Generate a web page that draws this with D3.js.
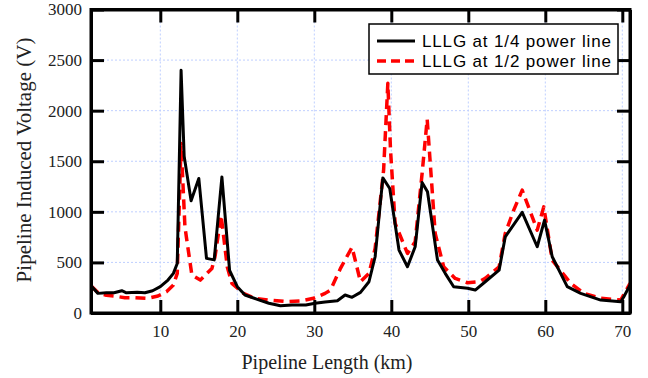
<!DOCTYPE html>
<html><head><meta charset="utf-8">
<script src="https://cdn.jsdelivr.net/npm/d3@7"></script>
<style>body{margin:0;background:#fff}svg{display:block}</style>
</head><body>
<svg id="chart" width="648" height="378"></svg>
<script>
// ---- data ----
const seriesNames = ["LLLG at 1/4 power line", "LLLG at 1/2 power line"];
const xTicks = [10, 20, 30, 40, 50, 60, 70];
const yTicks = [0, 500, 1000, 1500, 2000, 2500, 3000];
const quarterKm = [1, 1.9, 3, 4, 5, 5.6, 7, 8, 9, 10, 11, 11.7, 12.2, 12.7, 13.1, 14, 15, 16, 17, 18, 19, 20, 21, 22.6, 24.1, 25.6, 27.1, 28.9, 30.1, 31.4, 33, 34, 34.9, 36, 37.1, 37.9, 38.9, 39.8, 41, 42.1, 43.1, 44, 44.7, 46, 47, 48.1, 49.9, 50.9, 52.2, 54, 54.8, 57, 58.95, 59.9, 60.9, 62.85, 64.6, 67.2, 69.8, 70.2, 71];
const quarterV = [270, 194, 200, 200, 220, 200, 204, 200, 220, 260, 326, 392, 490, 2400, 1550, 1110, 1330, 540, 525, 1345, 420, 260, 178, 135, 96, 72, 79, 79, 96, 109, 121, 178, 155, 204, 309, 556, 1335, 1231, 622, 457, 655, 1290, 1198, 523, 392, 260, 244, 227, 309, 424, 753, 995, 655, 918, 556, 260, 194, 128, 112, 161, 276];
const halfKm = [1, 2, 3, 4, 5.4, 6.7, 8.4, 9.7, 10.8, 11.7, 12.2, 12.7, 13.2, 14.1, 15.2, 16.7, 17.1, 17.9, 18.7, 19.3, 20.8, 22.3, 24.1, 26.5, 28.2, 29.9, 31.4, 32.1, 33.4, 34.9, 36, 37.1, 37.9, 39, 39.55, 39.9, 40.5, 42.1, 43.1, 44, 44.66, 45.7, 46.8, 48.3, 49.9, 51.4, 52.2, 54, 54.8, 55.9, 57, 58.95, 59.8, 60.9, 63.3, 65, 67.2, 69.8, 71];
const halfV = [270, 195, 175, 168, 151, 151, 145, 168, 210, 276, 392, 1675, 850, 375, 325, 440, 555, 965, 455, 293, 194, 145, 128, 112, 118, 145, 194, 227, 441, 650, 309, 392, 639, 1411, 2270, 1609, 885, 589, 704, 1379, 1915, 787, 457, 342, 299, 309, 342, 457, 787, 1017, 1214, 819, 1049, 523, 293, 194, 145, 128, 293];

// ---- layout ----
const svg = d3.select("#chart");
const L = 91, R = 630, T = 9.5, B = 313;
const x = d3.scaleLinear().domain([1, 71]).range([L, R]);
const y = d3.scaleLinear().domain([0, 3000]).range([B, T]);

// grid
const grid = svg.append("g").attr("stroke", "#bfcfff").attr("stroke-width", 1).attr("stroke-dasharray", "2,2");
grid.selectAll(".gx").data(xTicks).join("line")
  .attr("x1", d => x(d)).attr("x2", d => x(d)).attr("y1", T).attr("y2", B);
grid.selectAll(".gy").data(yTicks.filter(v => v > 0 && v < 3000)).join("line")
  .attr("x1", L).attr("x2", R).attr("y1", d => y(d)).attr("y2", d => y(d));

// clip
svg.append("clipPath").attr("id", "clip").append("rect")
  .attr("x", L).attr("y", T).attr("width", R - L).attr("height", B - T);

const line = d3.line().x(d => x(d[0])).y(d => y(d[1]));
const plot = svg.append("g").attr("clip-path", "url(#clip)");
plot.append("path").datum(halfKm.map((k, i) => [k, halfV[i]]))
  .attr("d", line).attr("fill", "none").attr("stroke", "#ff0000")
  .attr("stroke-width", 3.5).attr("stroke-dasharray", "10,6").attr("stroke-linejoin", "round");
plot.append("path").datum(quarterKm.map((k, i) => [k, quarterV[i]]))
  .attr("d", line).attr("fill", "none").attr("stroke", "#000")
  .attr("stroke-width", 3).attr("stroke-linejoin", "round");

// axes
const tickFont = "Liberation Serif, Times New Roman, serif";
function style(g) {
  g.select(".domain").attr("stroke-width", 3);
  g.selectAll(".tick line").attr("stroke-width", 3);
  g.selectAll("text").attr("font-family", tickFont).attr("font-size", 17).attr("fill", "#222");
}
svg.append("g").attr("transform", `translate(0,${B})`)
  .call(d3.axisBottom(x).tickValues(xTicks).tickSize(-13).tickSizeOuter(0).tickPadding(12).tickFormat(d3.format("d")))
  .call(style);
svg.append("g").attr("transform", `translate(0,${T})`)
  .call(d3.axisTop(x).tickValues(xTicks).tickSize(-13).tickSizeOuter(0).tickFormat(""))
  .call(style);
svg.append("g").attr("transform", `translate(${L},0)`)
  .call(d3.axisLeft(y).tickValues(yTicks).tickSize(-13).tickSizeOuter(0).tickPadding(9).tickFormat(d3.format("d")))
  .call(style);
svg.append("g").attr("transform", `translate(${R},0)`)
  .call(d3.axisRight(y).tickValues(yTicks).tickSize(-13).tickSizeOuter(0).tickFormat(""))
  .call(style);
// frame corners
svg.append("rect").attr("x", L).attr("y", T).attr("width", R - L).attr("height", B - T)
  .attr("fill", "none").attr("stroke", "#000").attr("stroke-width", 3);

// titles
svg.append("text").attr("x", 327).attr("y", 369).attr("text-anchor", "middle")
  .attr("font-family", tickFont).attr("font-size", 20).attr("fill", "#222").text("Pipeline Length (km)");
svg.append("text").attr("transform", "translate(31,160) rotate(-90)").attr("text-anchor", "middle")
  .attr("font-family", tickFont).attr("font-size", 21).attr("fill", "#222").text("Pipeline Induced Voltage (V)");

// legend
const lg = svg.append("g");
lg.append("rect").attr("x", 369).attr("y", 24).attr("width", 249).attr("height", 50)
  .attr("fill", "#fff").attr("stroke", "#000").attr("stroke-width", 1.5);
const rows = [{ c: "#000", dash: null, w: 3 }, { c: "#ff0000", dash: "9,5", w: 3.5 }];
rows.forEach((r, i) => {
  const yy = 41 + i * 20;
  lg.append("line").attr("x1", 377).attr("x2", 415).attr("y1", yy).attr("y2", yy)
    .attr("stroke", r.c).attr("stroke-width", r.w).attr("stroke-dasharray", r.dash);
  lg.append("text").attr("x", 422).attr("y", yy).attr("dy", "0.36em")
    .attr("font-family", "Liberation Sans, Arial, sans-serif").attr("font-size", 17)
    .attr("letter-spacing", 0.85).attr("fill", "#000").text(seriesNames[i]);
});
</script>
</body></html>
